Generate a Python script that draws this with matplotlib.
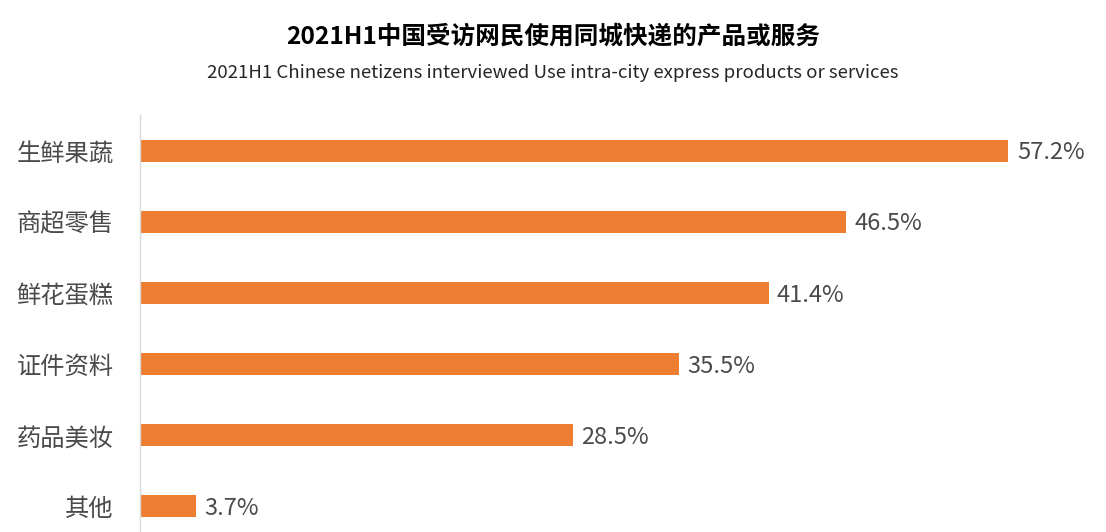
import matplotlib
matplotlib.use('Agg')
import matplotlib.pyplot as plt

plt.rcParams['font.family'] = ['Noto Sans CJK SC', 'DejaVu Sans']

categories = ['生鲜果蔬', '商超零售', '鲜花蛋糕', '证件资料', '药品美妆', '其他']
values = [57.2, 46.5, 41.4, 35.5, 28.5, 3.7]
labels = ['57.2%', '46.5%', '41.4%', '35.5%', '28.5%', '3.7%']

title = '2021H1中国受访网民使用同城快递的产品或服务'
subtitle = '2021H1 Chinese netizens interviewed Use intra-city express products or services'


def main():
    fig = plt.figure(figsize=(11.06, 5.32), dpi=100)
    ax = fig.add_axes([140 / 1106, -10 / 532, 911 / 1106, 427 / 532])

    y = list(range(len(categories)))
    ax.barh(y, values, height=0.31, color='#ED7D31')
    ax.set_ylim(len(categories) - 0.5, -0.5)
    ax.set_xlim(0, 60)

    # value labels sit a touch below the bar centre in the original
    for yi, v, lab in zip(y, values, labels):
        ax.text(v + 0.55, yi + 0.03, lab, va='center', ha='left', fontsize=17,
                color='#4a4a4a')

    ax.set_yticks(y)
    ax.set_yticklabels(categories, fontsize=17.5, color='#4a4a4a')
    ax.tick_params(axis='y', length=0, pad=19)
    ax.set_xticks([])
    for s in ['top', 'right', 'bottom']:
        ax.spines[s].set_visible(False)
    ax.spines['left'].set_color('#D9D9D9')
    ax.spines['left'].set_linewidth(1)

    fig.text(0.5, 1 - 37 / 532, title, ha='center', va='center', fontsize=17.7,
             fontweight='bold', color='#000000')
    fig.text(0.5, 1 - 73 / 532, subtitle, ha='center', va='center', fontsize=13.4,
             color='#262626')

    fig.savefig('out.png', dpi=100)


if __name__ == '__main__':
    main()
